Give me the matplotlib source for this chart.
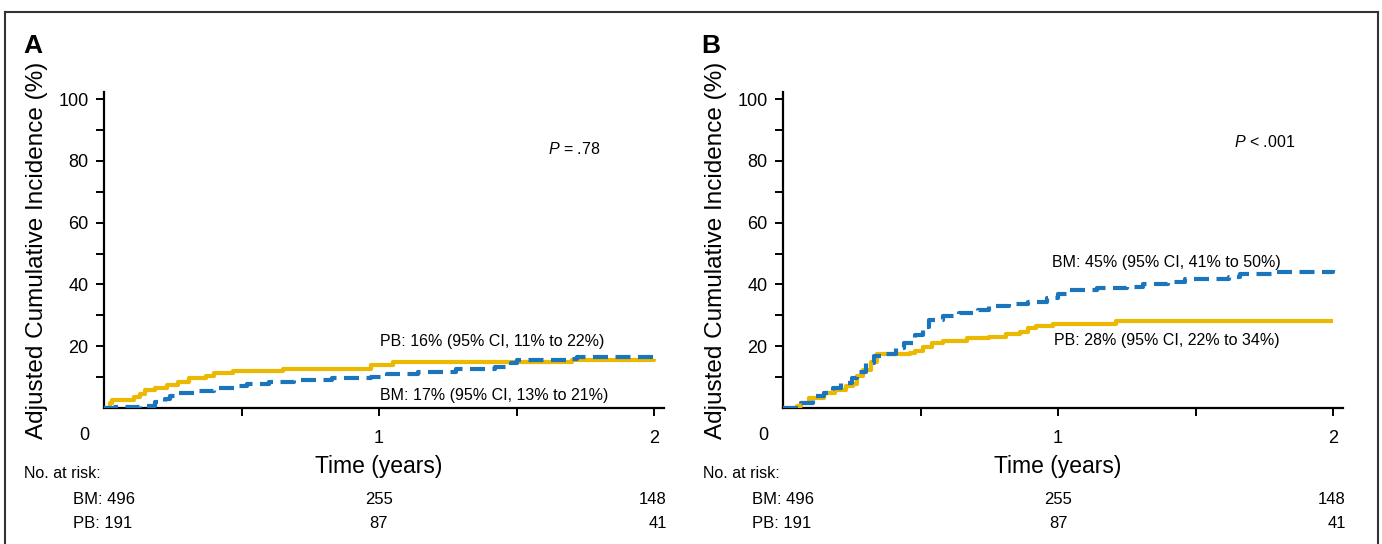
import matplotlib
matplotlib.use("Agg")
import matplotlib.pyplot as plt
from matplotlib.transforms import blended_transform_factory
from matplotlib.lines import Line2D

plt.rcParams['font.family'] = ['Liberation Sans', 'DejaVu Sans']
plt.rcParams['mathtext.fontset'] = 'custom'
plt.rcParams['mathtext.it'] = 'Liberation Sans:italic'
plt.rcParams['mathtext.rm'] = 'Liberation Sans'

# panel A: step curves (time in years, incidence in %)
a_pb_t = [0, 0.02, 0.03, 0.11, 0.13, 0.15, 0.185, 0.23, 0.27, 0.31, 0.37, 0.40, 0.47, 0.65, 0.97, 1.05, 1.70, 2.0]
a_pb_v = [0, 1.5, 2.6, 3.4, 4.5, 5.8, 6.6, 7.4, 8.5, 9.6, 10.2, 11.4, 12.1, 12.6, 13.8, 14.8, 15.6, 15.8]
a_bm_t = [0, 0.04, 0.13, 0.185, 0.22, 0.24, 0.27, 0.33, 0.40, 0.49, 0.52, 0.60, 0.69, 0.83, 0.97, 1.03,
          1.14, 1.28, 1.42, 1.48, 1.50, 1.70, 1.72, 2.0]
a_bm_v = [0, 0.4, 0.8, 1.9, 3.0, 4.0, 4.8, 5.5, 6.6, 7.0, 7.9, 8.5, 9.0, 9.6, 10.1, 11.0,
          11.8, 12.5, 13.4, 14.5, 15.4, 15.9, 16.5, 16.9]

# panel B
b_bm_t = [0, 0.046, 0.067, 0.11, 0.15, 0.18, 0.21, 0.25, 0.27, 0.30, 0.33, 0.37, 0.41, 0.44, 0.48, 0.51,
          0.53, 0.58, 0.64, 0.71, 0.75, 0.82, 0.89, 0.96, 1.0, 1.045, 1.14, 1.25, 1.31, 1.40, 1.46,
          1.62, 1.66, 1.78, 2.0]
b_bm_v = [0, 0.5, 1.6, 3.8, 4.8, 6.5, 8.1, 9.7, 11.8, 14.5, 16.7, 17.5, 19.4, 21.0, 23.7, 26.3,
          28.5, 29.8, 30.9, 31.7, 33.0, 33.7, 34.4, 35.5, 36.9, 38.2, 38.7, 39.2, 40.3, 40.9, 41.6,
          42.5, 43.5, 44.1, 44.6]
b_pb_t = [0, 0.05, 0.065, 0.095, 0.15, 0.19, 0.23, 0.255, 0.27, 0.29, 0.32, 0.34, 0.46, 0.48, 0.51,
          0.54, 0.58, 0.67, 0.75, 0.81, 0.86, 0.89, 0.92, 0.98, 1.21, 2.0]
b_pb_v = [0, 0.5, 1.6, 3.2, 4.8, 5.9, 7.0, 7.8, 10.2, 12.4, 15.0, 17.5, 17.7, 18.6, 19.9,
          21.0, 21.8, 22.6, 23.1, 24.0, 24.7, 25.8, 26.6, 27.2, 28.2, 28.2]

panel_letters = ['A', 'B']
p_texts = [r'$P$ = .78', r'$P$ < .001']
risk_times = [0, 1, 2]
risk_bm = [496, 255, 148]
risk_pb = [191, 87, 41]

YELLOW = '#EDB800'
BLUE = '#1B75BC'

W, H = 1382, 544
fig = plt.figure(figsize=(W / 100, H / 100), dpi=100)

def fx(px):
    return px / W

def fy(py):
    return 1 - py / H

axes_left = [104, 783]
ax_w = 2.035 * 275
ax_top, ax_bot = 92, 408

curves = [
    (a_pb_t, a_pb_v, a_bm_t, a_bm_v,
     [('PB: 16% (95% CI, 11% to 22%)', 1.004, 21.4), ('BM: 17% (95% CI, 13% to 21%)', 1.004, 4.2)]),
    (b_pb_t, b_pb_v, b_bm_t, b_bm_v,
     [('BM: 45% (95% CI, 41% to 50%)', 0.98, 47.2), ('PB: 28% (95% CI, 22% to 34%)', 0.985, 22.0)]),
]
p_pos = [(1.615, 84.0), (1.64, 86.0)]

for i in range(2):
    left = axes_left[i]
    ax = fig.add_axes([fx(left), fy(ax_bot), ax_w / W, (ax_bot - ax_top) / H])
    pb_t, pb_v, bm_t, bm_v, labels = curves[i]
    ax.step(pb_t, pb_v, where='post', color=YELLOW, lw=3, solid_capstyle='butt', zorder=3)
    ax.step(bm_t, bm_v, where='post', color=BLUE, lw=3, dashes=(3.6, 1.8), zorder=4)
    ax.set_xlim(0, 2.035)
    ax.set_ylim(0, 102.3)
    for s in ['top', 'right']:
        ax.spines[s].set_visible(False)
    for s in ['left', 'bottom']:
        ax.spines[s].set_linewidth(1.6)
    ax.set_xticks([0.5, 1, 1.5, 2])
    ax.set_xticklabels(['', '1', '', '2'])
    ax.set_yticks(range(10, 101, 10))
    ax.set_yticklabels(['', '20', '', '40', '', '60', '', '80', '', '100'])
    ax.tick_params(axis='x', direction='out', length=6, width=1.4, pad=10, labelsize=13)
    ax.tick_params(axis='y', direction='out', length=6, width=1.4, pad=5, labelsize=13)

    tr = blended_transform_factory(ax.transData, fig.transFigure)
    # shared origin label
    ax.text(-0.072, fy(436), '0', ha='center', va='center', fontsize=13, transform=tr)
    for txt, tx, ty in labels:
        ax.text(tx, ty, txt, ha='left', va='center', fontsize=11.5)
    px, py = p_pos[i]
    ax.text(px, py, p_texts[i], ha='left', va='center', fontsize=11.5)
    ax.text(-67 / ax_w, 0.5, 'Adjusted Cumulative Incidence (%)', rotation=90,
            ha='center', va='center', fontsize=17.5, transform=ax.transAxes)

    ax.text(1, fy(466), 'Time (years)', ha='center', va='center', fontsize=16.5, transform=tr)
    ax.text(-0.29, fy(474), 'No. at risk:', ha='left', va='center', fontsize=11.5, transform=tr)
    for row, (name, vals) in enumerate([('BM', risk_bm), ('PB', risk_pb)]):
        yy = fy(499 + row * 24)
        for t, n in zip(risk_times, vals):
            if t == 0:
                ax.text(-0.113, yy, f'{name}: {n}', ha='left', va='center', fontsize=12, transform=tr)
            elif t == 2:
                ax.text(2.047, yy, str(n), ha='right', va='center', fontsize=12, transform=tr)
            else:
                ax.text(t, yy, str(n), ha='center', va='center', fontsize=12, transform=tr)

    fig.text(fx([33, 711][i]), fy(46), panel_letters[i], fontsize=19, fontweight='bold',
             ha='center', va='center')

# thin frame around the figure
for xs, ys in [([5, 5], [12, H]), ([5, 1378], [12, 12]), ([1378, 1378], [12, H])]:
    fig.add_artist(Line2D([fx(x) for x in xs], [fy(y) for y in ys], color='#333333', lw=1.5))

fig.savefig('out.png', dpi=100)
